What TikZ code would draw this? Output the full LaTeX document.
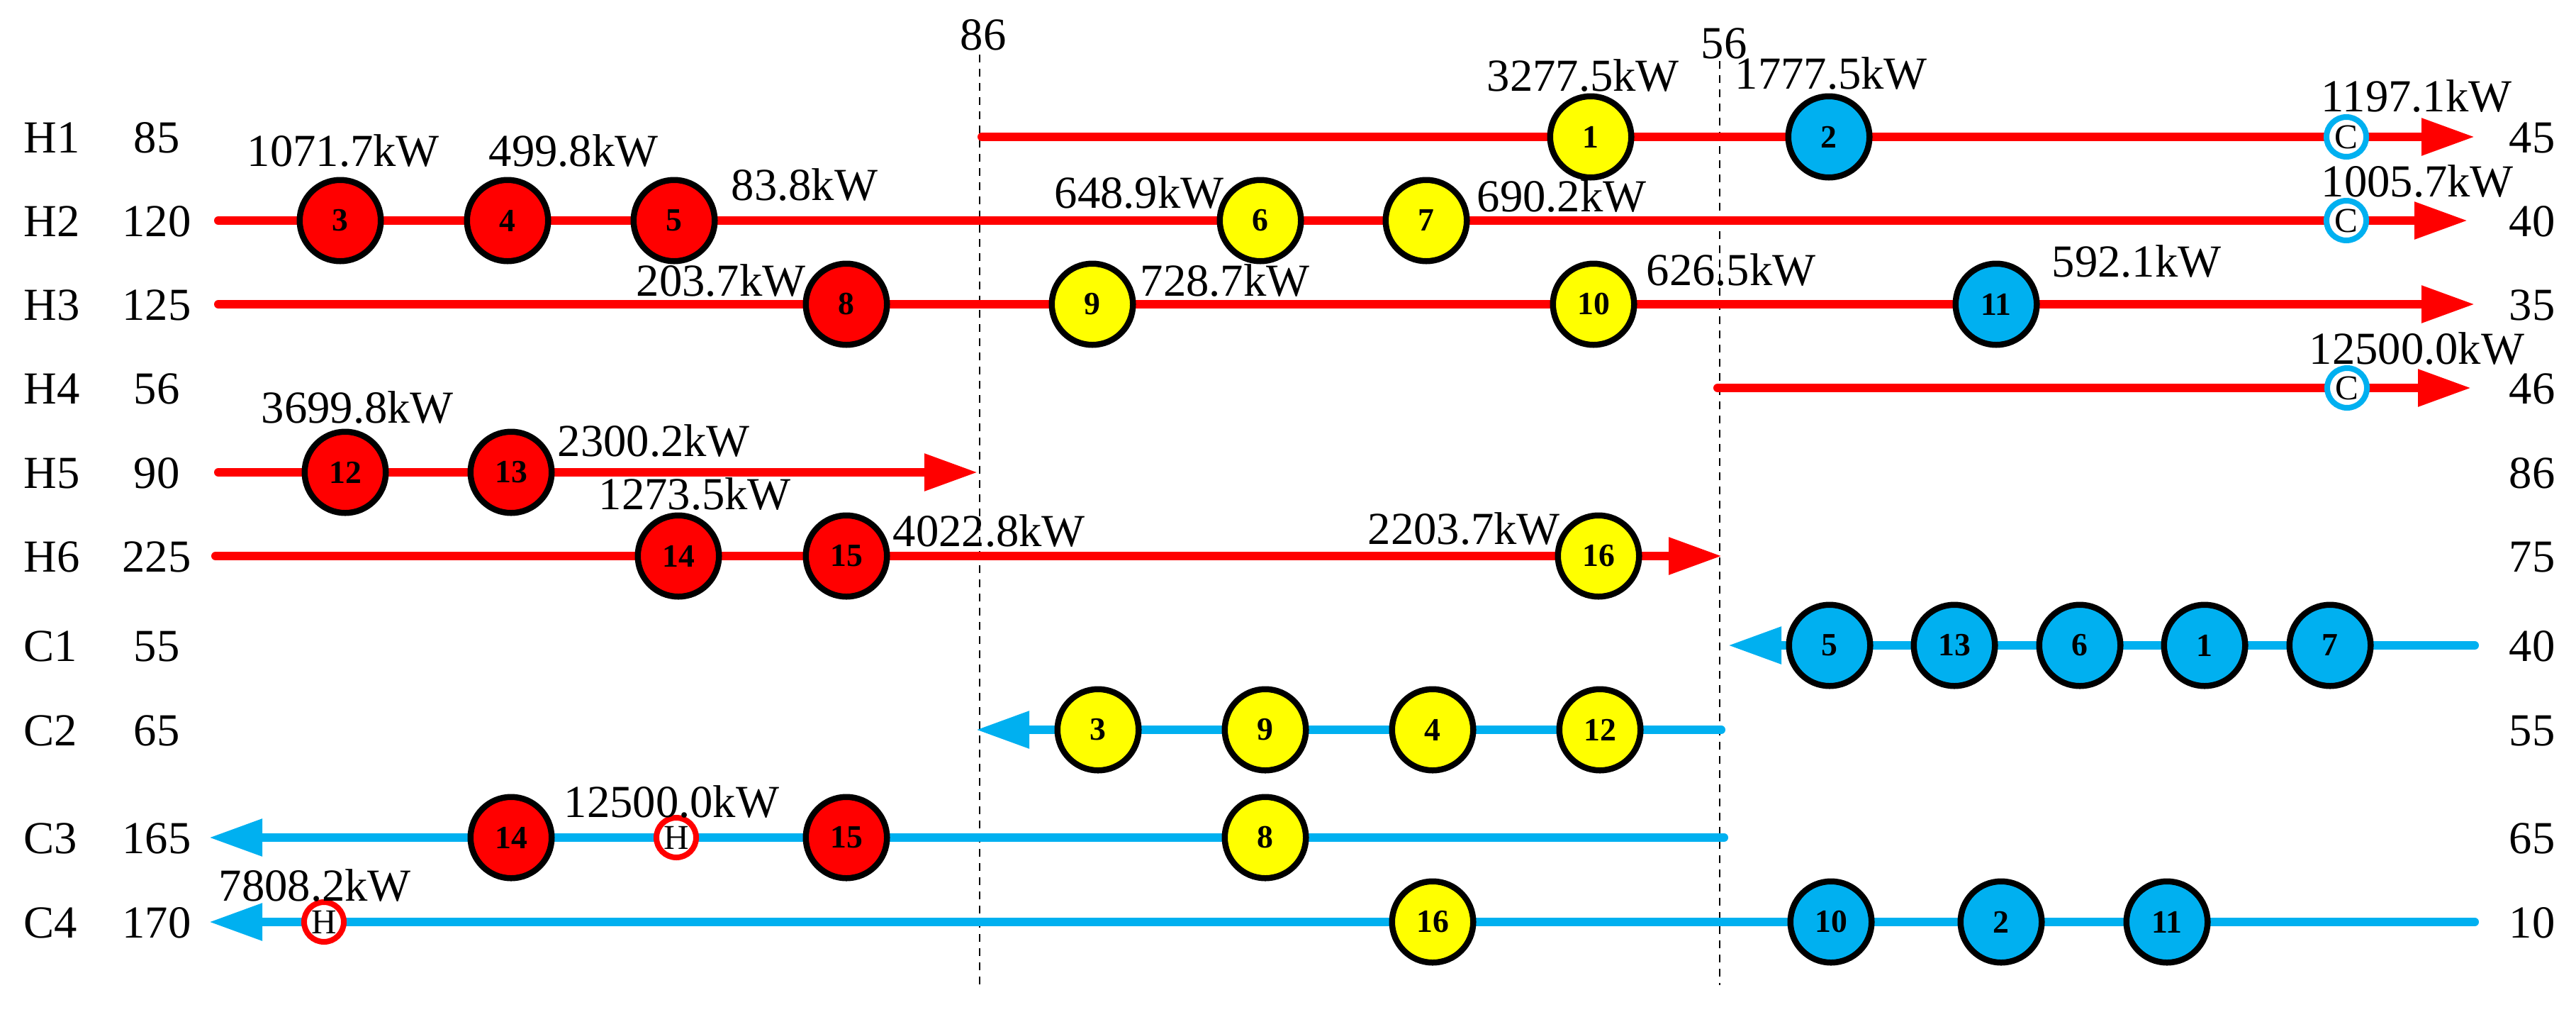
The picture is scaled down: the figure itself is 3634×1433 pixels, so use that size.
\documentclass[tikz,border=0pt]{standalone}
\usepackage{fontspec}
\setmainfont{Liberation Serif}
\usetikzlibrary{arrows.meta,shapes.geometric}
\definecolor{cblue}{HTML}{00B0F0}
\definecolor{hred}{HTML}{FF0000}
\definecolor{myyellow}{HTML}{FFFF00}
\begin{document}
\begin{tikzpicture}[x=0.1mm,y=-0.1mm,
  lab/.style={font=\fontsize{18.4}{20}\selectfont, inner sep=0pt, anchor=base west},
  hx/.style={circle, draw=black, line width=0.85mm, minimum size=11.45mm, inner sep=0pt, font=\fontsize{13}{13}\selectfont\bfseries},
  hotx/.style={hx, fill=hred},
  coldx/.style={hx, fill=cblue},
  mixx/.style={hx, fill=myyellow},
  util/.style={circle, line width=0.8mm, minimum size=5.6mm, inner sep=0pt, fill=white, font=\fontsize{14}{14}\selectfont},
  cu/.style={util, draw=cblue},
  hu/.style={util, draw=hred},
  hotline/.style={draw=hred, line width=1.2mm, line cap=round, -{Triangle[length=7.5mm,width=5mm]}},
  coldline/.style={draw=cblue, line width=1.2mm, line cap=round, -{Triangle[length=7.5mm,width=5mm]}},
  pinch/.style={draw=black, line width=0.27mm, dash pattern=on 1.1mm off 0.9mm}
]
\useasboundingbox (0,0) rectangle (3634,1433);

% pinch lines
\node[lab, anchor=base] (t86) at (1387,70) {86};
\coordinate (d86a) at (1382,77);
\coordinate (d86b) at (1382,1389);
\draw[pinch] (d86a) -- (d86b);
\node[lab, anchor=base] (t56) at (2432,82) {56};
\coordinate (d56a) at (2426,86);
\coordinate (d56b) at (2426,1389);
\draw[pinch] (d56a) -- (d56b);

% stream names and temperatures
\foreach \n/\a/\b/\y in {H1/85/45/193, H2/120/40/311, H3/125/35/429, H4/56/46/547, H5/90/86/666, H6/225/75/784, C1/55/40/910, C2/65/55/1029, C3/165/65/1181, C4/170/10/1300} {
  \node[lab, anchor=base west] (name-\n) at (33,\y+22) {\n};
  \node[lab, anchor=base] (tin-\n) at (221,\y+22) {\a};
  \node[lab, anchor=base] (tout-\n) at (3572,\y+22) {\b};
}

% ---------- H1 ----------
\coordinate (H1s) at (1385,193);
\coordinate (H1e) at (3491,193);
\draw[hotline] (H1s) -- (H1e);
\node[mixx] (h1x1) at (2244,193) {1};
\node[coldx] (h1x2) at (2580,193) {2};
\node[cu] (h1c) at (3310,193) {C};
\node[lab] (q1) at (2097,128) {3277.5kW};
\node[lab] (q2) at (2447,125) {1777.5kW};
\node[lab] (qc1) at (3274,157) {1197.1kW};

% ---------- H2 ----------
\coordinate (H2s) at (308,311);
\coordinate (H2e) at (3481,311);
\draw[hotline] (H2s) -- (H2e);
\node[hotx] (h2x3) at (480,311) {3};
\node[hotx] (h2x4) at (716,311) {4};
\node[hotx] (h2x5) at (951,311) {5};
\node[mixx] (h2x6) at (1778,311) {6};
\node[mixx] (h2x7) at (2012,311) {7};
\node[cu] (h2c) at (3310,311) {C};
\node[lab] (q3) at (348,234) {1071.7kW};
\node[lab] (q4) at (689,234) {499.8kW};
\node[lab] (q5) at (1031,282) {83.8kW};
\node[lab] (q6) at (1487,293) {648.9kW};
\node[lab] (q7) at (2083,298) {690.2kW};
\node[lab] (qc2) at (3274,277) {1005.7kW};

% ---------- H3 ----------
\coordinate (H3s) at (308,429);
\coordinate (H3e) at (3491,429);
\draw[hotline] (H3s) -- (H3e);
\node[hotx] (h3x8) at (1194,429) {8};
\node[mixx] (h3x9) at (1541,429) {9};
\node[mixx] (h3x10) at (2248,429) {10};
\node[coldx] (h3x11) at (2816,429) {11};
\node[lab] (q8) at (897,417) {203.7kW};
\node[lab] (q9) at (1608,417) {728.7kW};
\node[lab] (q10) at (2322,402) {626.5kW};
\node[lab] (q11) at (2894,390) {592.1kW};

% ---------- H4 ----------
\coordinate (H4s) at (2423,547);
\coordinate (H4e) at (3486,547);
\draw[hotline] (H4s) -- (H4e);
\node[cu] (h4c) at (3311,547) {C};
\node[lab] (qc4) at (3257,513) {12500.0kW};

% ---------- H5 ----------
\coordinate (H5s) at (308,666);
\coordinate (H5e) at (1379,666);
\draw[hotline] (H5s) -- (H5e);
\node[hotx] (h5x12) at (487,666) {12};
\node[hotx] (h5x13) at (721,666) {13};
\node[lab] (q12) at (368,596) {3699.8kW};
\node[lab] (q13) at (786,643) {2300.2kW};

% ---------- H6 ----------
\coordinate (H6s) at (304,784);
\coordinate (H6e) at (2429,784);
\draw[hotline] (H6s) -- (H6e);
\node[hotx] (h6x14) at (957,784) {14};
\node[hotx] (h6x15) at (1194,784) {15};
\node[mixx] (h6x16) at (2255,784) {16};
\node[lab] (q14) at (844,718) {1273.5kW};
\node[lab] (q15) at (1259,770) {4022.8kW};
\node[lab] (q16) at (1929,767) {2203.7kW};

% ---------- C1 ----------
\coordinate (C1s) at (3491,910);
\coordinate (C1e) at (2438,910);
\draw[coldline] (C1s) -- (C1e);
\node[coldx] (c1x5) at (2581,910) {5};
\node[coldx] (c1x13) at (2757,910) {13};
\node[coldx] (c1x6) at (2934,910) {6};
\node[coldx] (c1x1) at (3110,910) {1};
\node[coldx] (c1x7) at (3287,910) {7};

% ---------- C2 ----------
\coordinate (C2s) at (2428,1029);
\coordinate (C2e) at (1377,1029);
\draw[coldline] (C2s) -- (C2e);
\node[mixx] (c2x3) at (1549,1029) {3};
\node[mixx] (c2x9) at (1785,1029) {9};
\node[mixx] (c2x4) at (2021,1029) {4};
\node[mixx] (c2x12) at (2257,1029) {12};

% ---------- C3 ----------
\coordinate (C3s) at (2432,1181);
\coordinate (C3e) at (295,1181);
\draw[coldline] (C3s) -- (C3e);
\node[hotx] (c3x14) at (721,1181) {14};
\node[hu] (c3h) at (954,1181) {H};
\node[hotx] (c3x15) at (1194,1181) {15};
\node[mixx] (c3x8) at (1785,1181) {8};
\node[lab] (qh3) at (795,1152) {12500.0kW};

% ---------- C4 ----------
\coordinate (C4s) at (3491,1300);
\coordinate (C4e) at (295,1300);
\draw[coldline] (C4s) -- (C4e);
\node[hu] (c4h) at (457,1300) {H};
\node[mixx] (c4x16) at (2021,1300) {16};
\node[coldx] (c4x10) at (2583,1300) {10};
\node[coldx] (c4x2) at (2823,1300) {2};
\node[coldx] (c4x11) at (3057,1300) {11};
\node[lab] (qh4) at (308,1270) {7808.2kW};
\end{tikzpicture}
\end{document}
